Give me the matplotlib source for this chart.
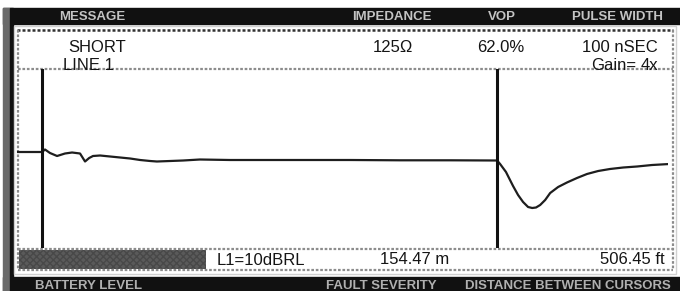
"""
TDR screen capture: short on LINE 1, cursor-to-fault trace.
"""

import matplotlib.pyplot as plt
from matplotlib.patches import Rectangle

plt.rcParams["font.family"] = ["Liberation Sans", "DejaVu Sans"]

# trace: distance from first cursor (m) vs. reflection level (arb.)
distance_m = [-8.5, 0.0, 1.0, 2.7, 5.1, 7.8, 10.2, 12.9, 14.6, 16.0, 17.3, 19.7, 23.1,
              26.5, 29.9, 33.3, 36.7, 39.0, 43.5, 47.9, 53.6, 63.8, 74.0, 87.6, 104.6,
              121.5, 138.5, 154.5, 155.5, 157.5, 159.9, 161.6, 163.3, 165.0, 166.4,
              167.7, 169.1, 170.8, 172.5, 175.2, 178.2, 181.6, 185.0, 188.8, 192.8,
              197.3, 202.0, 207.1, 213.0]
level = [8, 8, 10.5, 7, 4, 6.5, 7.5, 6.5, -1.5, 2, 4, 4.5, 3.5,
         2.5, 1.5, 0, -1, -1.5, -1, -0.5, 0.5, 0, 0, 0, 0,
         -0.3, -0.3, -0.5, -4, -12, -26, -35, -42, -47, -48,
         -47.5, -45, -40, -33, -27, -22.5, -18, -14, -11, -9,
         -7.5, -6.5, -5, -4]
cursors_m = [0.0, 154.47]

header_labels = ["MESSAGE", "IMPEDANCE", "VOP", "PULSE WIDTH"]
header_x = [92, 392, 502, 617]
footer_labels = ["BATTERY LEVEL", "FAULT SEVERITY", "DISTANCE BETWEEN CURSORS"]
footer_x = [89, 381, 568]

message = ["SHORT", "LINE 1"]
impedance = "125\u03a9"
vop = "62.0%"
pulse_width = "100 nSEC"
gain = "4x"
rl_setting = "L1=10dBRL"
dist_m = "154.47 m"
dist_ft = "506.45 ft"

W, H = 680, 291
fig = plt.figure(figsize=(W / 100, H / 100), dpi=100)
fig.patch.set_facecolor("white")

# screen chrome drawn in pixel coordinates
bg = fig.add_axes([0, 0, 1, 1])
bg.set_xlim(0, W)
bg.set_ylim(H, 0)
bg.axis("off")


def box(x0, y0, x1, y1, **kw):
    bg.add_patch(Rectangle((x0, y0), x1 - x0, y1 - y0, **kw))


def dotted(xs, ys, color="#8c8c8c", lw=1.6):
    bg.plot(xs, ys, color=color, lw=lw, ls=(0, (1.2, 0.8)), zorder=3)


box(3, 8, W, 24, color="#111111")           # header band
box(3, 277, W, H, color="#111111")          # footer band
box(3, 8, 10, H, color="#6a6a6a")           # left bezel
box(10, 8, 12.5, H, color="#111111")
box(13.5, 26, 676, 274, fill=False, ec="#d0d0d0", lw=1)

dotted([17, 673], [30, 30], color="#333333", lw=1.8)
dotted([18, 18], [30, 270])
dotted([673, 673], [30, 270])
dotted([18, 673], [68.8, 68.8])
dotted([18, 673], [248.5, 248.5])
dotted([18, 673], [269.5, 269.5])
box(19, 250, 206, 268.5, fc="#5a5a5a", hatch="xxxxx", ec="#484848", lw=0)

for lab, x in zip(header_labels, header_x):
    bg.text(x, 16.5, lab, ha="center", va="center", fontsize=9.5,
            fontweight="bold", color="#c4c4c4")
for lab, x in zip(footer_labels, footer_x):
    bg.text(x, 280, lab, ha="center", va="top", fontsize=9.5,
            fontweight="bold", color="#b0b0b0")

txt = dict(fontsize=12, color="#151515", va="baseline")
bg.text(68, 51.5, message[0], ha="left", **txt)
bg.text(63, 70, message[1], ha="left", **txt)
bg.text(373, 51.5, impedance, ha="left", **txt)
bg.text(477, 51.5, vop, ha="left", **txt)
bg.text(658, 51.5, pulse_width, ha="right", **txt)
bg.text(636, 70, "Gain=", ha="right", **txt)
bg.text(658, 70, gain, ha="right", **txt)
bg.text(217, 265, rl_setting, ha="left", **txt)
bg.text(380, 264.5, dist_m, ha="left", **txt)
bg.text(665, 264.5, dist_ft, ha="right", **txt)

# trace area
ax = fig.add_axes([17 / W, 1 - 248 / H, (668 - 17) / W, (248 - 69) / H])
ax.set_facecolor("none")
ax.plot(distance_m, level, color="#1e1e1e", lw=1.6)
for c in cursors_m:
    ax.axvline(c, color="#111111", lw=2.2)
ax.set_xlim(-8.5, 212.5)
ax.set_ylim(-88, 91)
ax.axis("off")

fig.savefig("out.png", dpi=100)
